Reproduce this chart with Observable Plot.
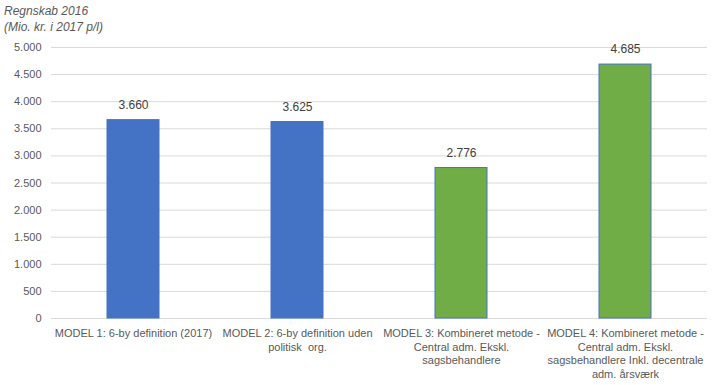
<!DOCTYPE html>
<html>
<head>
<meta charset="utf-8">
<script src="https://cdn.jsdelivr.net/npm/d3@7"></script>
<script src="https://cdn.jsdelivr.net/npm/@observablehq/plot@0.6"></script>
<style>
  body { margin: 0; background: #fff; font-family: "Liberation Sans", Arial, sans-serif; }
  #title { height: 36px; padding: 3px 0 0 4px; box-sizing: border-box; color: #595959; font-style: italic; font-size: 12px; line-height: 16px; }
</style>
</head>
<body>
<div id="title">Regnskab 2016<br>(Mio. kr. i 2017 p/l)</div>
<div id="chart"></div>
<script>
const categories = [
  "MODEL 1: 6-by definition (2017)",
  "MODEL 2: 6-by definition uden\npolitisk  org.",
  "MODEL 3: Kombineret metode -\nCentral adm. Ekskl.\nsagsbehandlere",
  "MODEL 4: Kombineret metode -\nCentral adm. Ekskl.\nsagsbehandlere Inkl. decentrale\nadm. årsværk"
];
const values = [3660, 3625, 2776, 4685];
const groups = ["A", "A", "B", "B"];
const yTicks = [0, 500, 1000, 1500, 2000, 2500, 3000, 3500, 4000, 4500, 5000];

const da = d3.formatLocale({decimal: ",", thousands: ".", grouping: [3], currency: ["", " kr."]});
const fmt = da.format(",");
const data = categories.map((c, i) => ({cat: c, value: values[i], group: groups[i]}));

const chart = Plot.plot({
  width: 712,
  height: 349,
  marginLeft: 51,
  marginRight: 5,
  marginTop: 11,
  marginBottom: 67,
  style: {fontFamily: "Liberation Sans, Arial, sans-serif", fontSize: "11px", color: "#595959"},
  x: {domain: categories, paddingInner: 0.68, paddingOuter: 0.34, label: null},
  y: {domain: [0, 5000], label: null},
  color: {domain: ["A", "B"], range: ["#4472C4", "#70AD47"]},
  marks: [
    Plot.gridY(yTicks, {stroke: "#d9d9d9", strokeOpacity: 1, strokeWidth: 1}),
    Plot.barY(data, {x: "cat", y: "value", fill: "group", stroke: "#4472C4", strokeWidth: 1}),
    Plot.text(data, {x: "cat", y: "value", text: d => fmt(d.value), dy: -15, fill: "#404040", fontSize: 12}),
    Plot.axisY({ticks: yTicks, tickFormat: fmt, tickSize: 0, tickPadding: 10, fill: "#595959", fontSize: 11}),
    Plot.axisX({tickSize: 0, tickPadding: 9, lineHeight: 1.23, fill: "#595959", fontSize: 11})
  ]
});
document.getElementById("chart").appendChild(chart);
</script>
</body>
</html>
